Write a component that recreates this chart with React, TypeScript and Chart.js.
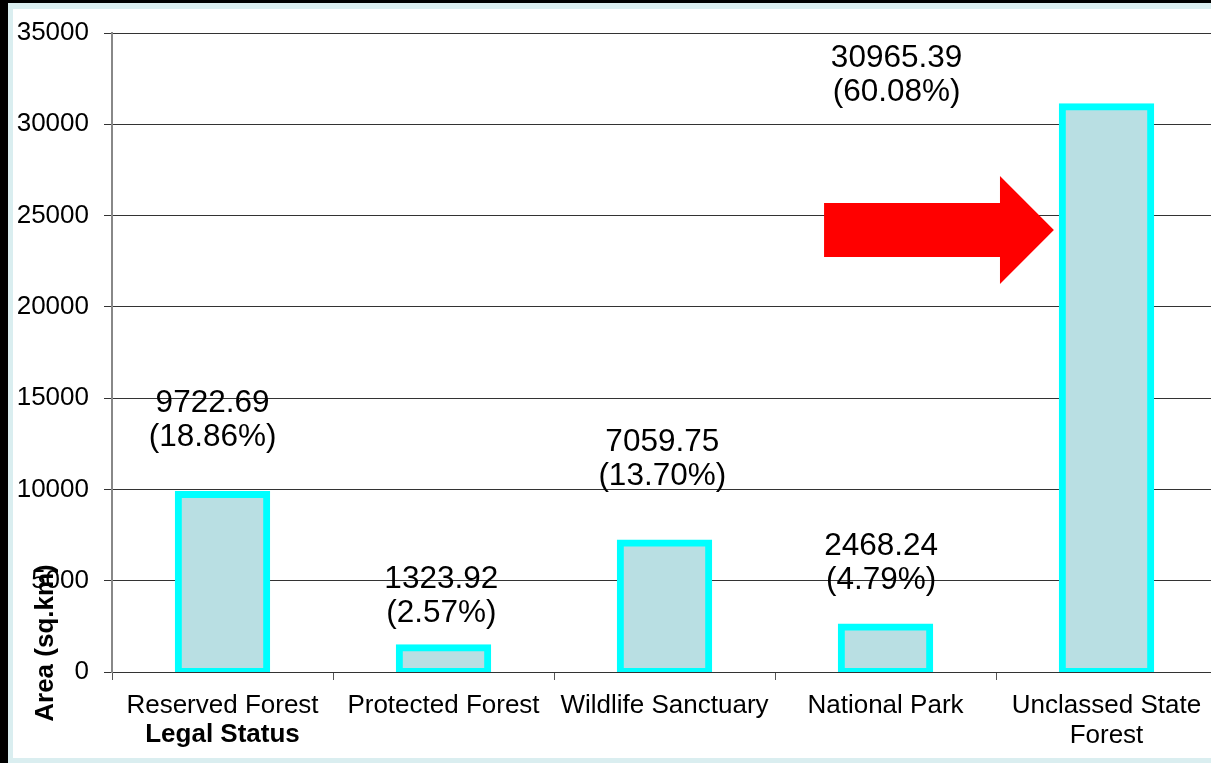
import React, { useEffect, useRef } from 'react';
import { Chart, registerables } from 'chart.js';

Chart.register(...registerables);

// ---- data ----
const categories: (string | string[])[] = [
  'Reserved Forest',
  'Protected Forest',
  'Wildlife Sanctuary',
  'National Park',
  ['Unclassed State', 'Forest'],
];
const areas = [9722.69, 1323.92, 7059.75, 2468.24, 30965.39];
const shares = [18.86, 2.57, 13.7, 4.79, 60.08];
const yMin = 0;
const yMax = 35000;
const yStep = 5000;
const xTitle = 'Legal Status';
const yTitle = 'Area (sq.km)';

// data-label anchors (category index units, value units of first-line baseline)
const labelAnchorX = [-0.045, 0.99, 1.99, 2.98, 3.05];
const labelAnchorY = [14240, 4600, 12100, 6410, 33140];

// arrow annotation (category index units / value units)
const arrowTailIdx = 2.722;
const arrowHeadBaseIdx = 3.518;
const arrowTipIdx = 3.762;
const arrowShaft = [22730, 25690];
const arrowHead = [21250, 27170];
const arrowTipValue = 24210;

const FONT = '"Liberation Sans", Arial, sans-serif';

const overlayPlugin = {
  id: 'overlay',
  afterDraw(chart: any) {
    const { ctx, chartArea } = chart;
    const xs = chart.scales.x;
    const ys = chart.scales.y;
    const px = (i: number) => xs.getPixelForValue(i);
    const py = (v: number) => ys.getPixelForValue(v);
    ctx.save();

    // red arrow
    ctx.fillStyle = '#FF0000';
    ctx.beginPath();
    ctx.moveTo(px(arrowTailIdx), py(arrowShaft[1]));
    ctx.lineTo(px(arrowHeadBaseIdx), py(arrowShaft[1]));
    ctx.lineTo(px(arrowHeadBaseIdx), py(arrowHead[1]));
    ctx.lineTo(px(arrowTipIdx), py(arrowTipValue));
    ctx.lineTo(px(arrowHeadBaseIdx), py(arrowHead[0]));
    ctx.lineTo(px(arrowHeadBaseIdx), py(arrowShaft[0]));
    ctx.lineTo(px(arrowTailIdx), py(arrowShaft[0]));
    ctx.closePath();
    ctx.fill();

    // data labels
    ctx.fillStyle = '#000';
    ctx.font = `31.5px ${FONT}`;
    ctx.textAlign = 'center';
    ctx.textBaseline = 'alphabetic';
    areas.forEach((a, i) => {
      const lx = px(labelAnchorX[i]);
      const ly = py(labelAnchorY[i]);
      ctx.fillText(a.toFixed(2), lx, ly);
      ctx.fillText(`(${shares[i].toFixed(2)}%)`, lx, ly + 34);
    });

    // x title (under first category)
    ctx.font = `bold 26px ${FONT}`;
    ctx.fillText(xTitle, px(0), chartArea.bottom + 70);

    // y title
    ctx.translate(chartArea.left - 66, chartArea.bottom - 29);
    ctx.rotate(-Math.PI / 2);
    ctx.textBaseline = 'middle';
    ctx.fillText(yTitle, 0, 0);
    ctx.restore();
  },
};

export default function App() {
  const ref = useRef<HTMLCanvasElement | null>(null);

  useEffect(() => {
    if (!ref.current) return;
    const chart = new Chart(ref.current, {
      type: 'bar',
      data: {
        labels: categories as any,
        datasets: [
          {
            data: areas,
            backgroundColor: '#B9DFE3',
            borderColor: '#00FFFF',
            borderWidth: 7,
            borderSkipped: false,
            inflateAmount: 3.5,
            barPercentage: 0.4,
            categoryPercentage: 1,
          } as any,
        ],
      },
      options: {
        responsive: false,
        animation: false,
        devicePixelRatio: 1,
        layout: { padding: { top: 24, left: 0, right: 6, bottom: 0 } },
        plugins: {
          legend: { display: false },
          tooltip: { enabled: false },
          title: { display: false },
        },
        scales: {
          x: {
            grid: {
              display: true,
              drawOnChartArea: false,
              drawTicks: true,
              tickLength: 8,
              color: '#555',
              offset: true,
            },
            border: { display: true, color: '#333', width: 1 },
            ticks: {
              color: '#000',
              font: { family: FONT, size: 26, lineHeight: 1.15 },
              padding: 11,
              maxRotation: 0,
              minRotation: 0,
              autoSkip: false,
            },
            afterFit: (s: any) => {
              s.height = 86;
              s.paddingLeft = 0;
              s.paddingRight = 0;
            },
          },
          y: {
            min: yMin,
            max: yMax,
            grid: {
              color: '#333',
              lineWidth: 1,
              tickLength: 8,
              drawTicks: true,
            },
            border: { display: true, color: '#888', width: 2 },
            ticks: {
              stepSize: yStep,
              color: '#000',
              font: { family: FONT, size: 26 },
              padding: 15,
              callback: (v: any) => String(v),
            },
            afterFit: (s: any) => {
              s.width = 99;
              s.paddingTop = 0;
              s.paddingBottom = 0;
            },
          },
        },
      },
      plugins: [overlayPlugin],
    });
    return () => chart.destroy();
  }, []);

  return (
    <div style={{ position: 'fixed', left: 0, top: 0, width: 1211, height: 763, background: '#000', overflow: 'hidden' }}>
      <div style={{ position: 'absolute', left: 8, top: 3, width: 1203, height: 760, background: '#DAEEF0' }} />
      <div
        style={{
          position: 'absolute',
          left: 13,
          top: 9,
          width: 1198,
          height: 749,
          background: '#FFFFFF',
          overflow: 'hidden',
        }}
      >
        <canvas ref={ref} width={1210} height={749} style={{ display: 'block', width: 1210, height: 749 }} />
      </div>
    </div>
  );
}
